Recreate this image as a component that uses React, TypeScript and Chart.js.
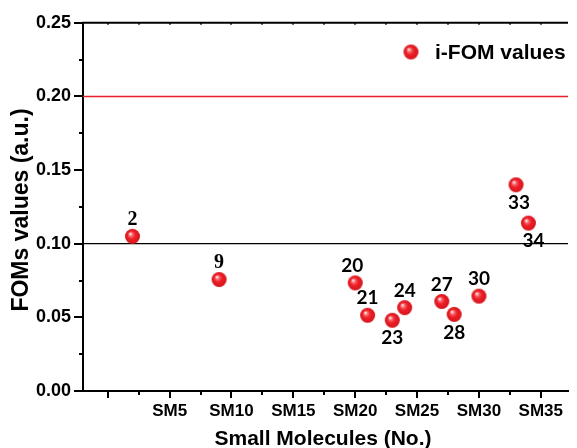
import React, { useEffect, useRef } from "react";
import { Chart, registerables } from "chart.js";

Chart.register(...registerables);

// ---- data ----
const molecules = [2, 9, 20, 21, 23, 24, 27, 28, 30, 33, 34];
const ifomValues = [0.105, 0.0757, 0.0734, 0.0514, 0.048, 0.0566, 0.0608, 0.052, 0.0644, 0.14, 0.114];
const pointLabels = ["2", "9", "20", "21", "23", "24", "27", "28", "30", "33", "34"];
const labelBelow = [false, false, false, false, true, false, false, true, false, true, true];
const yTickValues = [0, 0.05, 0.1, 0.15, 0.2, 0.25];
const xTickValues = [5, 10, 15, 20, 25, 30, 35];
const xTickLabels = ["SM5", "SM10", "SM15", "SM20", "SM25", "SM30", "SM35"];
const redThreshold = 0.2;
const blackThreshold = 0.1;
const legendLabel = "i-FOM values";
const xTitle = "Small Molecules (No.)";
const yTitle = "FOMs values (a.u.)";

// label nudges (style only)
const labelDx = [0, 0, -3, 0, 0, 0, 0, 0, 0, 3, 5];

function makeSphere(r: number): HTMLCanvasElement {
  const c = document.createElement("canvas");
  const s = Math.ceil(r * 2 + 2);
  c.width = s;
  c.height = s;
  const ctx = c.getContext("2d")!;
  const cx = s / 2;
  const cy = s / 2;
  const g = ctx.createRadialGradient(cx - r * 0.3, cy - r * 0.35, r * 0.05, cx, cy, r);
  g.addColorStop(0, "#fff0f0");
  g.addColorStop(0.22, "#f76a6e");
  g.addColorStop(0.5, "#ee2028");
  g.addColorStop(1, "#d4141c");
  ctx.fillStyle = g;
  ctx.beginPath();
  ctx.arc(cx, cy, r, 0, Math.PI * 2);
  ctx.fill();
  return c;
}

export default function App() {
  const ref = useRef<HTMLCanvasElement | null>(null);

  useEffect(() => {
    if (!ref.current) return;
    const sphere = makeSphere(7.5);

    const decor = {
      id: "decor",
      beforeDatasetsDraw(chart: any) {
        const { ctx, chartArea, scales } = chart;
        const y = scales.y;
        ctx.save();
        ctx.strokeStyle = "#e8202a";
        ctx.lineWidth = 1.6;
        let py = y.getPixelForValue(redThreshold);
        ctx.beginPath();
        ctx.moveTo(chartArea.left, py);
        ctx.lineTo(chartArea.right, py);
        ctx.stroke();
        ctx.strokeStyle = "#000";
        ctx.lineWidth = 1.3;
        py = y.getPixelForValue(blackThreshold);
        ctx.beginPath();
        ctx.moveTo(chartArea.left, py);
        ctx.lineTo(chartArea.right, py);
        ctx.stroke();
        ctx.restore();
      },
      afterDraw(chart: any) {
        const { ctx, chartArea, scales } = chart;
        const x = scales.x;
        const y = scales.y;
        ctx.save();
        ctx.strokeStyle = "#000";
        ctx.lineWidth = 2;
        ctx.beginPath();
        ctx.moveTo(chartArea.left - 1, chartArea.top);
        ctx.lineTo(chartArea.right, chartArea.top);
        ctx.stroke();
        for (let v = 0; v <= x.max; v += 2.5) {
          const px = Math.round(x.getPixelForValue(v));
          const major = v % 5 === 0;
          ctx.lineWidth = 2;
          ctx.beginPath();
          ctx.moveTo(px, chartArea.bottom);
          ctx.lineTo(px, chartArea.bottom + (major ? 7 : 4));
          ctx.stroke();
          ctx.lineWidth = 1.5;
          ctx.beginPath();
          ctx.moveTo(px, chartArea.top);
          ctx.lineTo(px, chartArea.top + 2);
          ctx.stroke();
        }
        ctx.lineWidth = 2;
        for (let i = 0; i <= 10; i++) {
          const v = i * 0.025;
          const py = Math.round(y.getPixelForValue(v));
          const major = i % 2 === 0;
          ctx.beginPath();
          ctx.moveTo(chartArea.left, py);
          ctx.lineTo(chartArea.left - (major ? 9 : 4), py);
          ctx.stroke();
        }
        ctx.fillStyle = "#000";
        ctx.textAlign = "center";
        ctx.textBaseline = "middle";
        molecules.forEach((m, i) => {
          const px = x.getPixelForValue(m) + labelDx[i];
          const py = y.getPixelForValue(ifomValues[i]) + (labelBelow[i] ? 18 : -17);
          const serif = pointLabels[i].length === 1;
          ctx.font = serif ? "bold 20px 'Liberation Serif'" : "bold 19px Lato";
          ctx.fillText(pointLabels[i], px, py);
        });
        const lx = 411;
        const ly = 52;
        ctx.drawImage(sphere, lx - sphere.width / 2, ly - sphere.height / 2);
        ctx.textAlign = "left";
        ctx.font = "bold 21px 'Liberation Sans'";
        ctx.fillText(legendLabel, 435, ly + 1);
        ctx.textAlign = "center";
        ctx.font = "bold 21px 'Liberation Sans'";
        ctx.fillText(xTitle, 323, 439);
        ctx.save();
        ctx.translate(22, 210);
        ctx.rotate(-Math.PI / 2);
        ctx.font = "bold 23px 'Liberation Sans'";
        ctx.fillText(yTitle, 0, 0);
        ctx.restore();
        ctx.restore();
      },
    };

    const chart = new Chart(ref.current, {
      type: "scatter",
      data: {
        datasets: [
          {
            label: legendLabel,
            data: molecules.map((m, i) => ({ x: m, y: ifomValues[i] })),
            pointStyle: sphere as any,
            pointRadius: 8,
            pointHoverRadius: 8,
          },
        ],
      },
      options: {
        responsive: false,
        animation: false,
        devicePixelRatio: 1,
        layout: { padding: { top: 21, left: 0, right: 0, bottom: 0 } },
        plugins: { legend: { display: false }, tooltip: { enabled: false } },
        scales: {
          x: {
            type: "linear",
            min: -2,
            max: 37.2,
            grid: { display: false, drawTicks: false },
            border: { display: true, color: "#000", width: 2 },
            afterBuildTicks: (s: any) => {
              s.ticks = xTickValues.map((v) => ({ value: v }));
            },
            afterFit: (s: any) => {
              s.height = 57;
            },
            ticks: {
              autoSkip: false,
              maxRotation: 0,
              padding: 10,
              color: "#000",
              font: { family: "'Liberation Sans'", size: 17, weight: "bold" },
              callback: (v: any) => {
                const idx = xTickValues.indexOf(Number(v));
                return idx >= 0 ? xTickLabels[idx] : "";
              },
            },
          },
          y: {
            min: 0,
            max: 0.25,
            grid: { display: false, drawTicks: false },
            border: { display: true, color: "#000", width: 2 },
            afterBuildTicks: (s: any) => {
              s.ticks = yTickValues.map((v) => ({ value: v }));
            },
            afterFit: (s: any) => {
              s.width = 83;
            },
            ticks: {
              padding: 12,
              color: "#000",
              font: { family: "'Liberation Sans'", size: 18, weight: "bold" },
              callback: (v: any) => Number(v).toFixed(2),
            },
          },
        },
      },
      plugins: [decor],
    } as any);

    return () => chart.destroy();
  }, []);

  return (
    <div style={{ position: "fixed", left: 0, top: 0, width: 577, height: 448, background: "#fff" }}>
      <canvas ref={ref} width={577} height={448} style={{ display: "block" }} />
    </div>
  );
}
